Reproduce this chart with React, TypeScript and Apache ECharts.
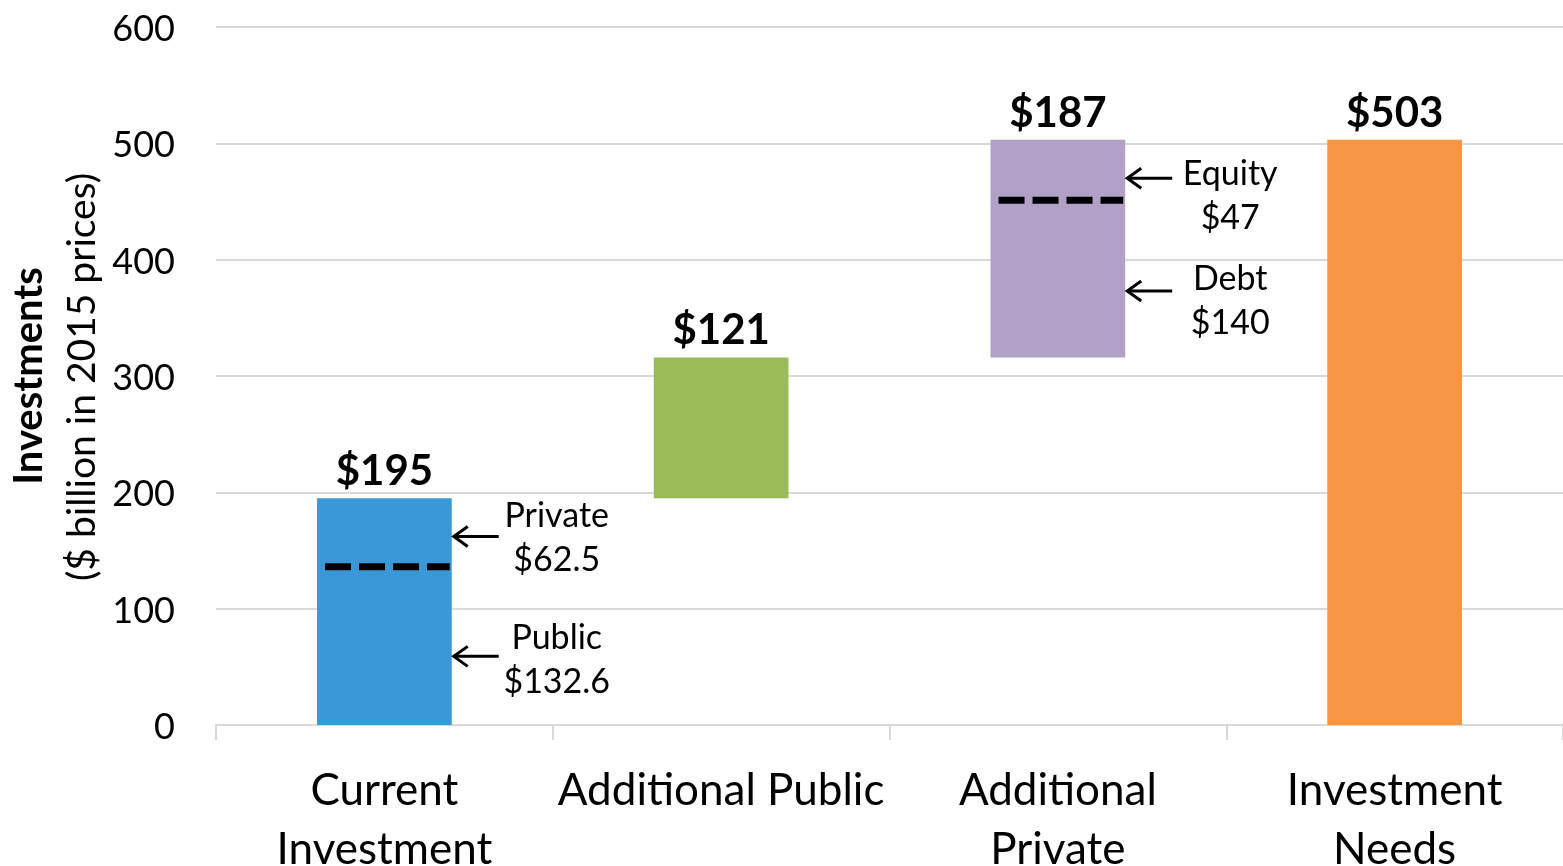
import React, { useEffect, useRef } from "react";
import * as echarts from "echarts";

const categories = ["Current\nInvestment", "Additional Public", "Additional\nPrivate", "Investment\nNeeds"];
const baseValues = [0, 195, 316, 0];
const barValues = [195, 121, 187, 503];
const barLabels = ["$195", "$121", "$187", "$503"];
const barColors = ["#3A98D8", "#9BBB59", "#B2A1C7", "#F79646"];
const yTicks = { min: 0, max: 600, interval: 100 };

// dashed split lines inside bars: [categoryIndex, value]
const splitLines = [
  [0, 136],
  [2, 451],
];

// annotations: category index, arrow value, text centre value, text
const annCategory = [0, 0, 2, 2];
const annArrowValue = [162, 59, 470, 373];
const annTextValue = [163, 58, 457, 367];
const annText = ["Private\n$62.5", "Public\n$132.6", "Equity\n$47", "Debt\n$140"];

const FONT = "Lato, 'Open Sans', sans-serif";

export default function App() {
  const ref = useRef<HTMLDivElement>(null);
  useEffect(() => {
    if (!ref.current) return;
    const chart = echarts.init(ref.current, null, { renderer: "svg", width: 1563, height: 866 });
    const option = {
      animation: false,
      textStyle: { fontFamily: FONT, color: "#000" },
      grid: {
        left: 216,
        right: 0,
        top: 27,
        bottom: 141,
        containLabel: false,
        outerBoundsMode: "none",
      },
      xAxis: {
        type: "category",
        data: categories,
        axisLine: { show: true, lineStyle: { color: "#D9D9D9", width: 2 } },
        axisTick: { show: true, length: 15, lineStyle: { color: "#D9D9D9", width: 2 } },
        axisLabel: {
          color: "#000",
          fontSize: 44,
          lineHeight: 59,
          margin: 33,
          fontFamily: FONT,
          interval: 0,
        },
      },
      yAxis: {
        type: "value",
        min: yTicks.min,
        max: yTicks.max,
        interval: yTicks.interval,
        axisLine: { show: false },
        axisTick: { show: false },
        splitLine: { lineStyle: { color: "#D9D9D9", width: 2 } },
        axisLabel: { color: "#000", fontSize: 36, margin: 41, fontFamily: FONT },
      },
      graphic: [
        {
          type: "text",
          x: 27,
          y: 376,
          rotation: Math.PI / 2,
          style: {
            text: "Investments",
            font: `bold 40px ${FONT}`,
            fill: "#000",
            textAlign: "center",
            textVerticalAlign: "middle",
          },
        },
        {
          type: "text",
          x: 80,
          y: 377,
          rotation: Math.PI / 2,
          style: {
            text: "($ billion in 2015 prices)",
            font: `39px ${FONT}`,
            fill: "#000",
            textAlign: "center",
            textVerticalAlign: "middle",
          },
        },
      ],
      series: [
        {
          type: "bar",
          stack: "w",
          barWidth: "40%",
          data: baseValues,
          itemStyle: { color: "transparent" },
          emphasis: { disabled: true },
          silent: true,
        },
        {
          type: "bar",
          stack: "w",
          barWidth: "40%",
          data: barValues.map((v, i) => ({ value: v, itemStyle: { color: barColors[i] } })),
          label: {
            show: true,
            position: "top",
            distance: 8,
            formatter: (p: any) => barLabels[p.dataIndex],
            fontSize: 42,
            fontWeight: "bold",
            color: "#000",
            fontFamily: FONT,
          },
        },
        {
          type: "custom",
          data: splitLines,
          z: 10,
          renderItem: (params: any, api: any) => {
            const pt = api.coord([api.value(0), api.value(1)]);
            const bw = api.size([1, 0])[0] * 0.4;
            return {
              type: "line",
              shape: { x1: pt[0] - bw / 2 + 8, y1: pt[1], x2: pt[0] + bw / 2 - 2, y2: pt[1] },
              style: { stroke: "#000", lineWidth: 7, lineDash: [26, 8] },
            };
          },
        },
        {
          type: "custom",
          data: annCategory.map((c, i) => [c, annArrowValue[i], annTextValue[i], i]),
          z: 10,
          renderItem: (params: any, api: any) => {
            const c = api.value(0);
            const a = api.coord([c, api.value(1)]);
            const t = api.coord([c, api.value(2)]);
            const idx = api.value(3);
            const bw = api.size([1, 0])[0] * 0.4;
            const tipX = a[0] + bw / 2;
            const tailX = tipX + 47;
            return {
              type: "group",
              children: [
                {
                  type: "line",
                  shape: { x1: tipX + 2, y1: a[1], x2: tailX, y2: a[1] },
                  style: { stroke: "#000", lineWidth: 3 },
                },
                {
                  type: "polyline",
                  shape: { points: [[tipX + 16, a[1] - 10], [tipX + 2, a[1]], [tipX + 16, a[1] + 10]] },
                  style: { stroke: "#000", lineWidth: 3, fill: "none" },
                },
                {
                  type: "text",
                  style: {
                    text: annText[idx],
                    x: tipX + 105,
                    y: t[1],
                    textAlign: "center",
                    textVerticalAlign: "middle",
                    font: `34px ${FONT}`,
                    lineHeight: 44,
                    fill: "#000",
                  },
                },
              ],
            };
          },
        },
      ],
    };
    chart.setOption(option as any);
    return () => chart.dispose();
  }, []);
  return (
    <div
      ref={ref}
      style={{ position: "fixed", left: 0, top: 0, width: 1563, height: 866, overflow: "hidden" }}
    />
  );
}
